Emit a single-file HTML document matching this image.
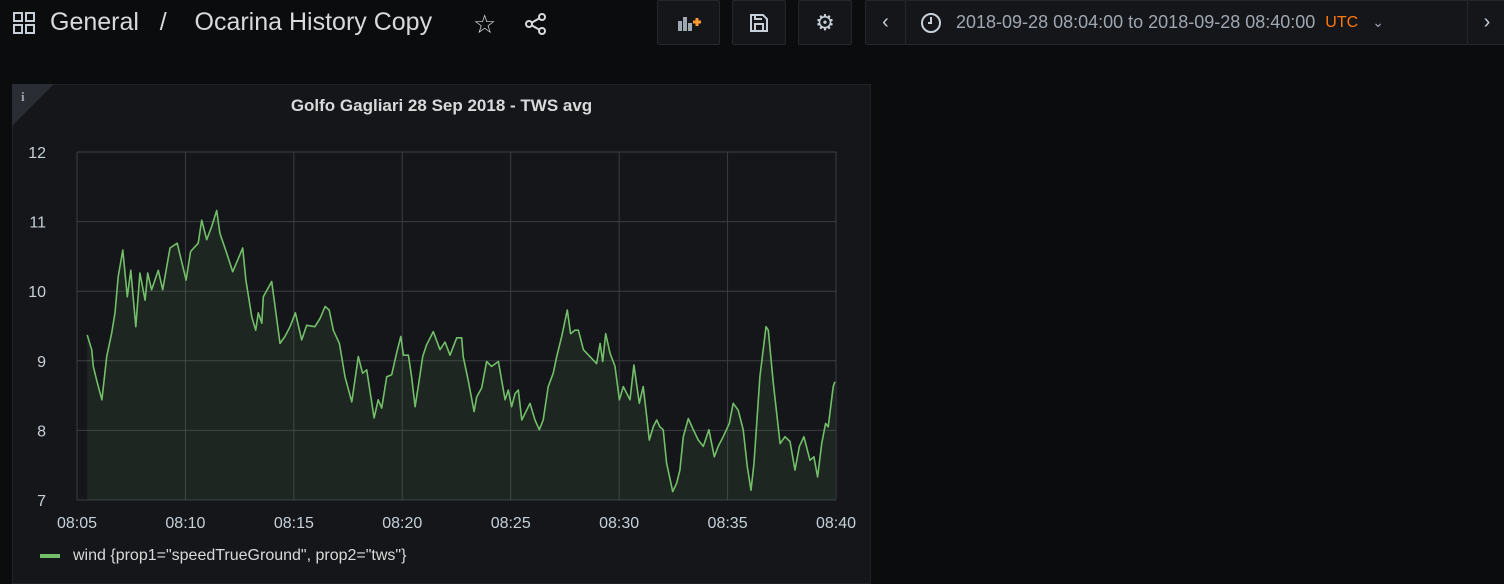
<!DOCTYPE html>
<html><head><meta charset="utf-8"><style>
body{margin:0;width:1504px;height:580px;background:#0b0c0e;overflow:hidden;font-family:"Liberation Sans",sans-serif;color:#d8d9da;position:relative}
.abs{position:absolute}
.btn{position:absolute;top:0;height:45px;background:#141619;border:1px solid #25272b;border-radius:2px;box-sizing:border-box;display:flex;align-items:center;justify-content:center;color:#c7d0d9}
</style></head><body>
<div class="abs" style="left:13px;top:12px;width:24px;height:24px">
<svg width="24" height="24"><g fill="none" stroke="#c7d0d9" stroke-width="2"><rect x="1" y="1" width="8" height="8"/><rect x="13" y="1" width="8" height="8"/><rect x="1" y="13" width="8" height="8"/><rect x="13" y="13" width="8" height="8"/></g></svg></div>
<div class="abs" style="left:50px;top:8px;font-size:25px;color:#d8d9da;white-space:pre">General   /    Ocarina History Copy</div>
<div class="abs" style="left:473px;top:9px;font-size:26px;color:#d8d9da">☆</div>
<div class="abs" style="left:524px;top:12px"><svg width="24" height="24"><g fill="none" stroke="#d8d9da" stroke-width="2"><circle cx="18" cy="5" r="3"/><circle cx="5" cy="12" r="3"/><circle cx="18" cy="19" r="3"/><path d="M8 10.5L15 6.5M8 13.5L15 17.5"/></g></svg></div>
<div class="btn" style="left:657px;width:63px"><svg width="26" height="20"><g fill="#9fa7b3"><rect x="2" y="8" width="4" height="10"/><rect x="7" y="4" width="4" height="14"/><rect x="12" y="10" width="4" height="8"/></g><path d="M17 9h8M21 5v8" stroke="#ff9830" stroke-width="3"/></svg></div>
<div class="btn" style="left:732px;width:54px"><svg width="20" height="20"><g fill="none" stroke="#c7d0d9" stroke-width="2"><path d="M2 2h12l4 4v12H2z"/><rect x="6" y="11" width="8" height="7"/><path d="M6 2v4h7"/></g></svg></div>
<div class="btn" style="left:798px;width:54px;font-size:22px">⚙</div>
<div class="btn" style="left:865px;width:41px;font-size:20px">‹</div>
<div class="btn" style="left:905px;width:563px;justify-content:flex-start;padding-left:14px;font-size:18px;color:#9fa7b3">
<svg width="22" height="22" style="margin-right:14px"><g fill="none" stroke="#c7d0d9" stroke-width="2"><circle cx="11" cy="11" r="9"/><path d="M11 5v6h-3"/></g></svg>2018-09-28 08:04:00 to 2018-09-28 08:40:00<span style="color:#ff780a;font-size:16px;margin-left:10px">UTC</span><span style="margin-left:14px;font-size:14px">⌄</span></div>
<div class="btn" style="left:1467px;width:40px;font-size:20px">›</div>

<div class="abs" style="left:12px;top:84px;width:859px;height:500px;background:#141619;border:1px solid #202226;box-sizing:border-box"></div>
<div class="abs" style="left:12px;top:84px;width:0;height:0;border-top:42px solid #2a2d33;border-right:42px solid transparent"></div>
<div class="abs" style="left:21px;top:89px;font-size:13px;color:#9fa7b3;font-weight:bold;font-family:'Liberation Serif',serif">i</div>
<div class="abs" style="left:12px;width:859px;top:96px;text-align:center;font-size:17px;font-weight:600;color:#d8d9da">Golfo Gagliari 28 Sep 2018 - TWS avg</div>

<svg class="abs" style="left:0;top:0" width="1504" height="580" id="chart"></svg>
<div class="abs" style="left:40px;top:547px;font-size:16px;color:#d8d9da;display:flex;align-items:center"><span style="display:inline-block;width:20px;height:4px;background:#73bf69;margin-right:13px"></span>wind {prop1="speedTrueGround", prop2="tws"}</div>
<script>
const times=[5.47,5.68,5.75,5.91,6.15,6.37,6.60,6.75,6.90,7.11,7.32,7.48,7.71,7.90,8.14,8.26,8.44,8.75,8.95,9.29,9.62,10.03,10.24,10.59,10.75,10.98,11.21,11.44,11.59,11.90,12.18,12.44,12.64,12.79,13.06,13.24,13.36,13.52,13.59,13.98,14.36,14.59,14.82,15.07,15.36,15.59,15.97,16.21,16.44,16.63,16.82,17.10,17.36,17.67,17.97,18.17,18.36,18.70,18.89,19.05,19.28,19.51,19.74,19.93,20.05,20.28,20.43,20.59,20.78,20.94,21.12,21.43,21.74,21.97,22.20,22.51,22.74,22.81,23.04,23.31,23.43,23.66,23.89,24.12,24.43,24.74,24.89,25.04,25.20,25.35,25.51,25.89,26.12,26.32,26.50,26.73,26.96,27.12,27.35,27.61,27.76,27.96,28.12,28.35,28.65,28.96,29.12,29.24,29.38,29.58,29.81,30.01,30.19,30.50,30.68,30.93,31.11,31.27,31.39,31.57,31.73,31.88,32.03,32.19,32.47,32.65,32.80,32.96,33.19,33.42,33.65,33.88,34.14,34.39,34.57,34.80,35.08,35.26,35.49,35.72,35.91,36.08,36.22,36.49,36.77,36.88,37.11,37.42,37.65,37.88,38.11,38.31,38.52,38.80,38.98,39.15,39.34,39.52,39.64,39.87,39.95];
const values=[9.37,9.16,8.92,8.72,8.44,9.06,9.40,9.69,10.21,10.59,9.92,10.30,9.49,10.26,9.87,10.26,10.02,10.30,10.02,10.62,10.69,10.16,10.57,10.69,11.02,10.74,10.93,11.16,10.83,10.55,10.28,10.47,10.62,10.16,9.63,9.44,9.69,9.54,9.92,10.14,9.25,9.35,9.49,9.69,9.30,9.51,9.49,9.61,9.78,9.73,9.44,9.25,8.77,8.41,9.06,8.82,8.87,8.18,8.44,8.32,8.77,8.80,9.11,9.35,9.08,9.08,8.77,8.34,8.72,9.06,9.23,9.42,9.16,9.27,9.08,9.33,9.33,9.06,8.72,8.27,8.48,8.61,8.99,8.92,8.99,8.44,8.58,8.34,8.53,8.58,8.15,8.39,8.15,8.01,8.15,8.63,8.82,9.06,9.35,9.73,9.39,9.44,9.44,9.16,9.06,8.96,9.25,8.99,9.39,9.11,8.92,8.44,8.63,8.44,8.94,8.39,8.63,8.20,7.86,8.05,8.15,8.05,8.01,7.53,7.12,7.24,7.43,7.91,8.17,8.01,7.86,7.77,8.01,7.62,7.77,7.91,8.10,8.39,8.29,8.01,7.48,7.14,7.53,8.77,9.49,9.44,8.68,7.81,7.91,7.84,7.43,7.77,7.91,7.57,7.62,7.33,7.81,8.10,8.05,8.63,8.70];
const yTicks=[7,8,9,10,11,12];
const xTicks=[5,10,15,20,25,30,35,40];
const X0=77,X1=836,Y0=500,Y1=152;
const xs=t=>X0+(t-5)/35*(X1-X0);
const ys=v=>Y0-(v-7)/5*(Y0-Y1);
const svg=document.getElementById('chart');const NS='http://www.w3.org/2000/svg';
function mk(tag,attrs){const e=document.createElementNS(NS,tag);for(const k in attrs)e.setAttribute(k,attrs[k]);svg.appendChild(e);return e;}
yTicks.forEach(v=>{const l=mk('line',{x1:X0,x2:X1,y1:ys(v),y2:ys(v),stroke:'#3a3d42','stroke-width':1});


const t=mk('text',{x:46,y:ys(v)+6,'text-anchor':'end',fill:'#c7d0d9','font-size':16,'font-family':'Liberation Sans, sans-serif'});t.textContent=v;

});
xTicks.forEach(m=>{const l=mk('line',{x1:xs(m),x2:xs(m),y1:Y1,y2:Y0,stroke:'#3a3d42','stroke-width':1});


const t=mk('text',{x:xs(m),y:528,'text-anchor':'middle',fill:'#c7d0d9','font-size':16,'font-family':'Liberation Sans, sans-serif'});t.textContent='08:'+String(m).padStart(2,'0');

});
let d=times.map((t,i)=>(i?'L':'M')+xs(t).toFixed(1)+' '+ys(values[i]).toFixed(1)).join(' ');
const area=mk('path',{d:d+' L'+xs(times[times.length-1]).toFixed(1)+' '+Y0+' L'+xs(times[0]).toFixed(1)+' '+Y0+' Z',fill:'rgba(115,191,105,0.1)'});


const line=mk('path',{d:d,fill:'none',stroke:'#73bf69','stroke-width':1.6,'stroke-linejoin':'round'});


</script>
</body></html>
